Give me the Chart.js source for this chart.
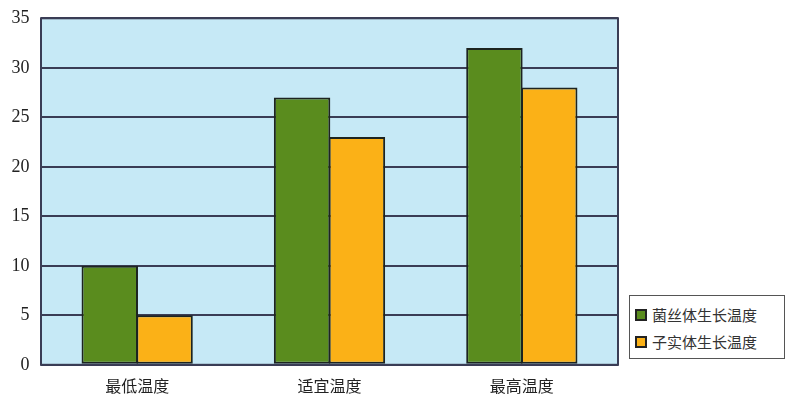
<!DOCTYPE html>
<html><head><meta charset="utf-8">
<script src="https://cdn.jsdelivr.net/npm/chart.js@4/dist/chart.umd.min.js"></script>
<style>
html,body{margin:0;padding:0;background:#fff;}
#wrap{position:relative;width:787px;height:404px;overflow:hidden;}
#c{position:absolute;left:0;top:-4px;}
#legend{position:absolute;left:629px;top:295px;width:156px;height:64px;border:1px solid #555;box-sizing:border-box;background:#fff;font-family:"Noto Sans CJK SC";font-size:15px;color:#333;padding-top:5px;}
.item{display:flex;align-items:center;height:27px;padding-left:5px;}
.sw{width:8px;height:8px;border:2px solid #222;margin-right:5px;}
</style></head><body>
<div id="wrap"><canvas id="c" width="787" height="414"></canvas>
<div id="legend"></div></div>
<script>
const categories = ["最低温度", "适宜温度", "最高温度"];
const seriesNames = ["菌丝体生长温度", "子实体生长温度"];
const mycelium = [10, 27, 32];
const fruiting = [5, 23, 28];
const colors = ["#5a8c1e", "#fbb117"];

const bgPlugin = {
  id: 'bg',
  beforeDraw(chart) {
    const {ctx, chartArea: a} = chart;
    ctx.save();
    ctx.fillStyle = '#c6e9f6';
    ctx.fillRect(a.left, a.top, a.right - a.left, a.bottom - a.top);
    ctx.restore();
  },
  afterDraw(chart) {
    const {ctx, chartArea: a} = chart;
    ctx.save();
    ctx.strokeStyle = '#3a3d55';
    ctx.lineWidth = 2;
    ctx.strokeRect(a.left, a.top, a.right - a.left, a.bottom - a.top);
    ctx.restore();
  }
};

const common = {borderColor: '#1d2420', borderWidth: 2, borderSkipped: false, categoryPercentage: 0.57, barPercentage: 1.03};

new Chart(document.getElementById('c'), {
  type: 'bar',
  data: {
    labels: categories,
    datasets: [
      Object.assign({label: seriesNames[0], data: mycelium, backgroundColor: colors[0]}, common),
      Object.assign({label: seriesNames[1], data: fruiting, backgroundColor: colors[1]}, common)
    ]
  },
  options: {
    responsive: false,
    animation: false,
    layout: {padding: {top: 1, right: 169, left: 0, bottom: 2}},
    plugins: {legend: {display: false}, tooltip: {enabled: false}},
    scales: {
      x: {
        grid: {display: false, drawTicks: false},
        border: {display: false},
        ticks: {color: '#222', font: {family: '"Noto Sans CJK SC"', size: 16}, padding: 12}
      },
      y: {
        min: 0, max: 35,
        grid: {color: '#3a3d55', lineWidth: 2, drawTicks: false},
        border: {display: false},
        ticks: {stepSize: 5, color: '#222', font: {family: '"Liberation Serif"', size: 18}, padding: 11.5}
      }
    }
  },
  plugins: [bgPlugin]
});

const lg = document.getElementById('legend');
seriesNames.forEach((n, i) => {
  const d = document.createElement('div');
  d.className = 'item';
  d.innerHTML = '<span class="sw" style="background:' + colors[i] + '"></span><span>' + n + '</span>';
  lg.appendChild(d);
});
</script>
</body></html>
